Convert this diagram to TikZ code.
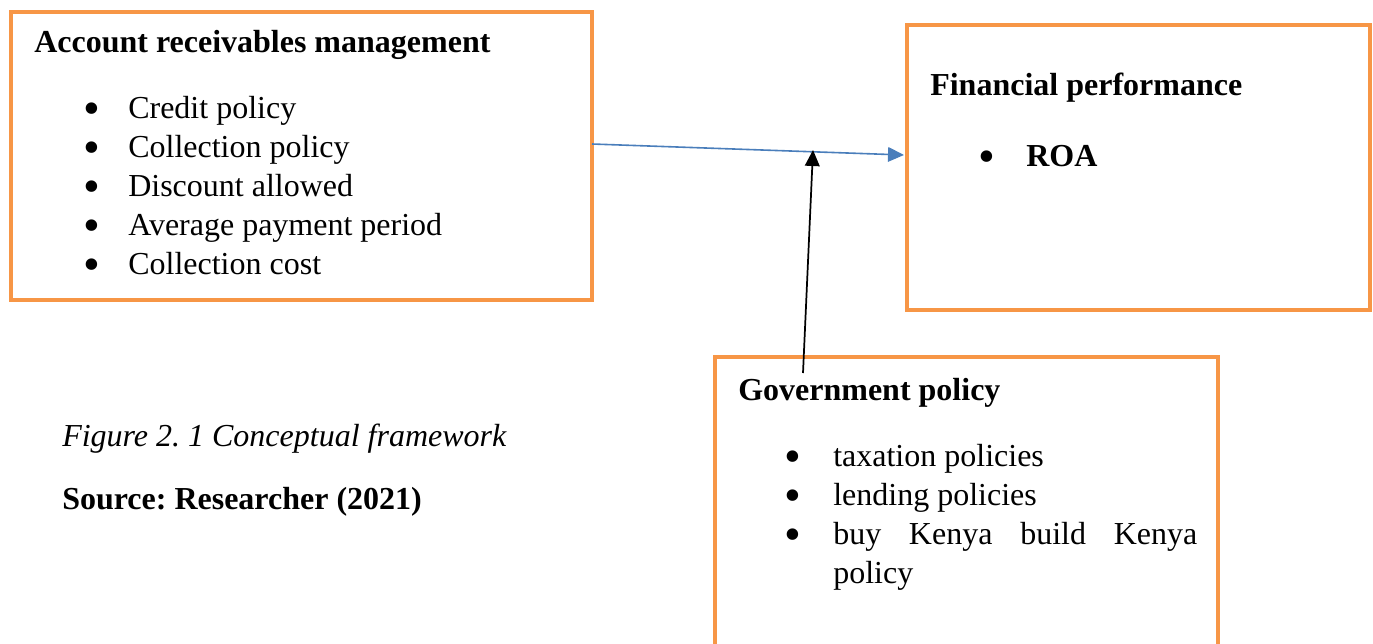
\documentclass[tikz,border=0pt]{standalone}
\usepackage{fontspec}
\setmainfont{Liberation Serif}
\usetikzlibrary{arrows.meta}
\definecolor{boxorange}{HTML}{F79646}
\definecolor{arrowblue}{HTML}{4A7EBB}
\newcommand{\bigbul}{\smash{\raisebox{-0.2em}{\scalebox{1.5}{•}}}}
\frenchspacing
\begin{document}
\begin{tikzpicture}[x=0.75pt,y=-0.75pt,
  frame/.style={draw=boxorange,line width=3pt,inner sep=0pt},
  txt/.style={anchor=base west,inner sep=0pt,font=\fontsize{24}{29}\selectfont},
  btxt/.style={txt,font=\fontsize{24}{29}\selectfont\bfseries},
  bul/.style={anchor=base,inner sep=0pt,font=\fontsize{24}{29}\selectfont},
  blueconn/.style={draw=arrowblue,line width=1.2pt,-{Triangle[length=12pt,width=11pt]}},
  blackconn/.style={draw=black,line width=1.3pt,-{Triangle[length=12pt,width=11pt]}}]
\useasboundingbox (0,0) rectangle (1373,643);
% boxes
\node[frame,minimum width=581*0.75pt,minimum height=288*0.75pt] (box1) at (301.5,156) {};
\node[frame,minimum width=463*0.75pt,minimum height=285*0.75pt] (box2) at (1138.5,167.5) {};
\node[frame,minimum width=503*0.75pt,minimum height=400*0.75pt] (box3) at (966.5,557) {};
% box 1 text
\node[btxt] (t1) at (34,52) {Account receivables management};
\node[bul] (b11) at (92,118) {\bigbul};
\node[txt] (t11) at (128,118) {Credit policy};
\node[bul] (b12) at (92,157) {\bigbul};
\node[txt] (t12) at (128,157) {Collection policy};
\node[bul] (b13) at (92,196) {\bigbul};
\node[txt] (t13) at (128,196) {Discount allowed};
\node[bul] (b14) at (92,235) {\bigbul};
\node[txt] (t14) at (128,235) {Average payment period};
\node[bul] (b15) at (92,274) {\bigbul};
\node[txt] (t15) at (128,274) {Collection cost};
% box 2 text
\node[btxt] (t2) at (930,95) {Financial performance};
\node[bul] (b21) at (987,166) {\bigbul};
\node[btxt] (t21) at (1026,166) {ROA};
% box 3 text
\node[btxt] (t3) at (738,400) {Government policy};
\node[bul] (b31) at (793,466) {\bigbul};
\node[txt] (t31) at (833,466) {taxation policies};
\node[bul] (b32) at (793,505) {\bigbul};
\node[txt] (t32) at (833,505) {lending policies};
\node[bul] (b33) at (793,544) {\bigbul};
\node[txt] (t33) at (833,544) {\makebox[273pt][s]{buy\hfill Kenya\hfill build\hfill Kenya}};
\node[txt] (t34) at (833,583) {policy};
% caption
\node[txt,font=\fontsize{24}{29}\selectfont\itshape] (cap) at (62,446) {Figure 2. 1 Conceptual framework};
\node[btxt] (src) at (62,509) {Source: Researcher (2021)};
% connectors
\coordinate (a1) at (592,144);
\coordinate (a2) at (904,155);
\coordinate (m) at (813,150);
\coordinate (g) at (803,373);
\draw[blueconn] (a1) -- (a2);
\draw[blackconn] (g) -- (m);
\end{tikzpicture}
\end{document}
